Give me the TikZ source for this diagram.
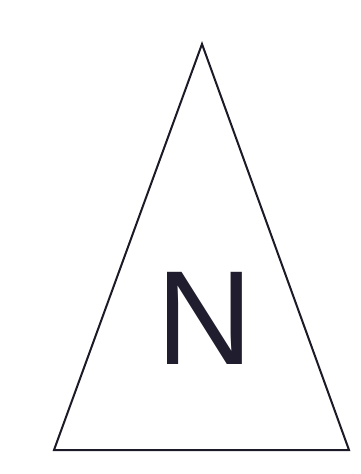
\documentclass[tikz,border=0pt]{standalone}
\usepackage{fontspec}
\setmainfont{Liberation Sans}
\usepackage{tikz}
\usetikzlibrary{positioning}
\definecolor{mydark}{RGB}{28,26,38}
\definecolor{myink}{RGB}{32,29,46}
\tikzset{
  signframe/.style={draw=mydark, line width=2pt, line join=miter, fill=white},
  signletter/.style={inner sep=0pt, anchor=base, text=myink,
    font=\fontsize{134}{134}\selectfont}
}
\begin{document}
\begin{tikzpicture}[x=1pt, y=-1pt]
  \useasboundingbox (0,0) rectangle (360,474);
  % warning sign
  \coordinate (apex) at (202,44);
  \coordinate (baseleft) at (54,450);
  \coordinate (baseright) at (349,450);
  \draw[signframe] (apex) -- (baseleft) -- (baseright) -- cycle;
  \node[signletter] (letter) at (205,364) {N};
\end{tikzpicture}
\end{document}
